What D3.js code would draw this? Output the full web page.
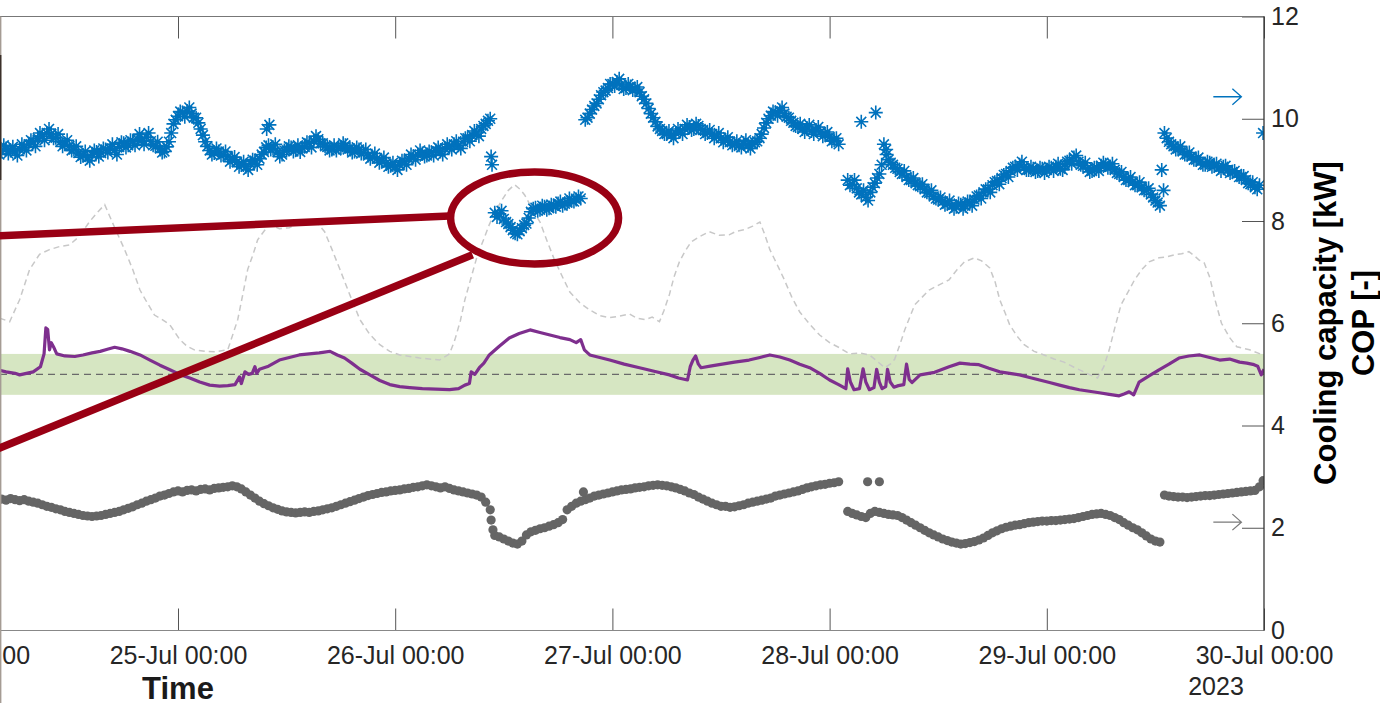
<!DOCTYPE html>
<html>
<head>
<meta charset="utf-8">
<script src="https://cdn.jsdelivr.net/npm/d3@7/dist/d3.min.js"></script>
<style>
  body { margin: 0; background: #fff; }
  svg { display: block; font-family: "Liberation Sans", Arial, Helvetica, sans-serif; }
</style>
</head>
<body>
<svg id="chart" width="1380" height="703"></svg>
<script>
// ---- time base: hours counted from 24-Jul-2023 00:00 ----
const T0 = Date.UTC(2023, 6, 24, 0, 0);
const STEP = 0.5; // sampling step of the logged series, hours

// x-axis tick dates and y-axis ticks
const dayTicks = ["2023-07-24", "2023-07-25", "2023-07-26", "2023-07-27", "2023-07-28", "2023-07-29", "2023-07-30"];
const valueTicks = [0, 2, 4, 6, 8, 10, 12];

// Cooling capacity [kW], logged in blocks (start hour, half-hourly values)
const capStartA = 4.0;
const capA = [9.40,9.36,9.42,9.38,9.35,9.41,9.44,9.50,9.55,9.62,9.66,9.72,9.70,9.63,9.55,9.50,9.47,9.40,9.33,9.28,
  9.24,9.30,9.35,9.33,9.40,9.42,9.38,9.45,9.52,9.48,9.55,9.60,9.58,9.64,9.56,9.47,9.42,9.36,9.55,9.90,
  10.05,10.12,10.15,10.10,10.02,9.80,9.55,9.38,9.33,9.36,9.30,9.26,9.20,9.15,9.10,9.06,9.12,9.18,9.22,9.35,
  9.48,9.42,9.35,9.30,9.38,9.44,9.40,9.35,9.45,9.52,9.56,9.60,9.52,9.45,9.40,9.38,9.44,9.48,9.42,9.36,
  9.40,9.34,9.28,9.25,9.22,9.18,9.12,9.08,9.06,9.10,9.16,9.22,9.26,9.30,9.32,9.28,9.34,9.38,9.36,9.42,
  9.45,9.50,9.48,9.55,9.62,9.68,9.72,9.80,9.90,10.00];
const capStartB = 59.0;
const capB = [8.16,8.14,8.04,7.94,7.82,7.74,7.86,7.95,8.18,8.26,8.22,8.28,8.25,8.30,8.34,8.30,8.36,8.40,8.42,8.44];
const capStartC = 69.0;
const capC = [9.98,10.10,10.25,10.38,10.52,10.60,10.68,10.72,10.66,10.60,10.63,10.58,10.52,10.38,10.20,10.02,9.85,9.76,9.70,9.68,
  9.72,9.76,9.80,9.84,9.80,9.86,9.78,9.72,9.70,9.66,9.62,9.58,9.55,9.50,9.48,9.52,9.47,9.50,9.56,9.70,
  9.92,10.06,10.12,10.16,10.10,10.02,9.92,9.84,9.80,9.82,9.76,9.78,9.74,9.70,9.64,9.58,9.50];
const capStartD = 98.0;
const capD = [8.80,8.72,8.64,8.52,8.46,8.56,8.74,8.92,9.50,9.20,9.10,9.02,8.92,8.86,8.80,8.74,8.68,8.62,8.55,8.48,
  8.42,8.38,8.34,8.30,8.28,8.32,8.30,8.36,8.42,8.50,8.56,8.62,8.70,8.78,8.84,8.92,8.98,9.06,9.10,9.04,
  9.00,9.02,8.98,9.02,9.00,9.04,9.06,9.02,9.10,9.18,9.24,9.16,9.08,9.02,8.98,9.04,9.08,9.10,9.06,9.00,
  8.92,8.86,8.80,8.76,8.70,8.66,8.60,8.52,8.40,8.30];
const capStartE = 133.0;
const capE = [9.72,9.55,9.46,9.42,9.36,9.30,9.26,9.20,9.16,9.10,9.14,9.08,9.04,9.06,9.00,8.96,8.92,8.86,8.80,8.72,8.66,8.70];

// interleaved samples logged a quarter hour later in each block
const capA2 = [9.30,9.48,9.32,9.45,9.28,9.50,9.38,9.58,9.46,9.72,9.58,9.80,9.62,9.70,9.46,9.58,9.38,9.46,9.25,9.36,
  9.18,9.38,9.26,9.42,9.34,9.50,9.30,9.54,9.44,9.58,9.48,9.70,9.50,9.72,9.48,9.55,9.34,9.45,9.72,9.98,
  10.14,10.04,10.22,10.02,9.92,9.68,9.46,9.30,9.42,9.28,9.36,9.16,9.25,9.06,9.16,9.00,9.20,9.10,9.30,9.44,
  9.40,9.50,9.26,9.38,9.46,9.36,9.48,9.42,9.54,9.44,9.66,9.52,9.46,9.38,9.48,9.44,9.52,9.40,9.34,9.44,
  9.32,9.40,9.22,9.32,9.14,9.24,9.06,9.14,9.00,9.18,9.10,9.30,9.20,9.38,9.26,9.36,9.28,9.44,9.30,9.50,
  9.40,9.56,9.42,9.62,9.56,9.76,9.66,9.86,9.96];
const capB2 = [8.08,8.20,7.98,7.88,7.76,7.80,7.92,8.06,8.24,8.20,8.30,8.22,8.32,8.28,8.38,8.34,8.44,8.38,8.48];
const capC2 = [10.02,10.18,10.30,10.46,10.55,10.68,10.64,10.78,10.58,10.68,10.56,10.62,10.44,10.30,10.10,9.94,9.80,9.70,9.76,9.62,
  9.80,9.70,9.88,9.78,9.90,9.80,9.70,9.78,9.62,9.72,9.54,9.64,9.48,9.56,9.44,9.58,9.42,9.54,9.62,9.82,
  10.00,10.14,10.06,10.22,10.04,9.96,9.86,9.90,9.74,9.88,9.70,9.84,9.66,9.74,9.56,9.62];
const capD2 = [8.70,8.80,8.56,8.60,8.40,8.66,8.84,9.10,9.40,9.14,9.04,8.96,8.98,8.80,8.84,8.70,8.72,8.56,8.60,8.44,
  8.46,8.32,8.40,8.24,8.34,8.24,8.38,8.30,8.48,8.44,8.62,8.56,8.76,8.72,8.90,8.86,9.04,9.00,9.16,9.00,
  9.06,8.96,9.04,8.94,9.06,8.98,9.12,9.00,9.16,9.12,9.28,9.10,9.14,8.96,9.04,8.98,9.14,9.04,9.12,8.94,
  8.96,8.80,8.86,8.70,8.76,8.60,8.64,8.46,8.36];
const capE2 = [9.62,9.50,9.40,9.46,9.30,9.34,9.20,9.24,9.10,9.16,9.06,9.12,8.98,9.08,8.94,8.98,8.86,8.88,8.74,8.76,8.62];
const capExtraHours = [33.8, 34.1, 58.6, 58.7, 99.5, 101.1, 102.3, 132.7, 132.9, 143.9];
const capExtraValues = [9.80, 9.88, 9.26, 9.10, 9.94, 10.12, 9.30, 9.00, 8.60, 9.72];

// COP [-], same logging blocks
const copStartA = 4.0;
const copA = [2.55,2.56,2.54,2.57,2.55,2.53,2.55,2.52,2.50,2.48,2.45,2.42,2.40,2.37,2.35,2.32,2.30,2.28,2.26,2.24,
  2.23,2.22,2.23,2.24,2.26,2.28,2.30,2.32,2.35,2.38,2.41,2.45,2.48,2.52,2.55,2.58,2.62,2.64,2.67,2.70,
  2.72,2.70,2.73,2.74,2.72,2.75,2.76,2.74,2.77,2.78,2.79,2.80,2.82,2.80,2.76,2.70,2.64,2.58,2.52,2.47,
  2.43,2.39,2.36,2.33,2.31,2.30,2.29,2.30,2.31,2.30,2.32,2.33,2.35,2.37,2.39,2.42,2.45,2.48,2.51,2.54,
  2.57,2.60,2.63,2.65,2.67,2.69,2.70,2.72,2.73,2.74,2.76,2.77,2.79,2.80,2.82,2.84,2.82,2.80,2.78,2.80,
  2.77,2.74,2.72,2.70,2.68,2.66,2.64,2.60,2.50,2.35];
const copStartB = 59.0;
const copB = [1.85,1.82,1.78,1.74,1.70,1.68,1.74,1.86,1.92,1.95,1.98,2.00,2.03,2.06,2.10,2.16];
const copStartC = 67.0;
const copC = [2.35,2.42,2.48,2.52,2.55,2.58,2.62,2.64,2.66,2.68,2.70,2.72,2.74,2.75,2.76,2.78,2.79,2.80,2.82,2.83,
  2.84,2.83,2.82,2.80,2.78,2.75,2.72,2.68,2.65,2.60,2.56,2.52,2.48,2.45,2.42,2.42,2.40,2.41,2.43,2.45,
  2.48,2.50,2.52,2.54,2.56,2.58,2.62,2.64,2.66,2.68,2.70,2.72,2.75,2.78,2.80,2.82,2.84,2.85,2.87,2.88,2.90];
const copStartD = 98.0;
const copD = [2.32,2.28,2.25,2.22,2.20,2.28,2.32,2.30,2.28,2.26,2.25,2.24,2.20,2.15,2.10,2.05,2.00,1.95,1.90,1.86,
  1.82,1.78,1.75,1.72,1.70,1.68,1.69,1.71,1.73,1.76,1.80,1.85,1.90,1.94,1.98,2.01,2.03,2.05,2.06,2.08,
  2.10,2.11,2.12,2.13,2.13,2.14,2.14,2.15,2.16,2.17,2.18,2.20,2.22,2.24,2.26,2.27,2.28,2.26,2.24,2.20,
  2.16,2.10,2.05,2.00,1.96,1.90,1.84,1.78,1.74,1.72];
const copStartE = 133.0;
const copE = [2.64,2.62,2.61,2.60,2.60,2.59,2.60,2.61,2.62,2.63,2.63,2.64,2.65,2.66,2.67,2.68,2.69,2.70,2.71,2.72,2.73,2.80];
const copExtraHours = [58.6, 58.8, 68.8, 100.2, 101.5, 143.9];
const copExtraValues = [2.15, 1.96, 2.70, 2.90, 2.90, 2.92];

// supply-side trace (solid purple line)
const purpleHours = [4.0,5.0,6.0,6.5,7.0,8.0,8.8,9.2,9.4,9.6,9.8,10.0,10.3,10.6,11.5,12.6,13.5,14.5,15.4,16.2,
  17.0,17.8,18.7,19.8,20.9,22.0,23.1,24.2,25.3,26.4,27.5,28.6,29.5,30.3,30.8,31.0,31.4,31.8,32.2,32.5,
  32.7,33.0,34.0,35.2,36.3,37.4,38.5,39.6,40.8,41.6,42.4,43.2,44.1,45.2,46.3,47.4,48.5,49.6,51.0,52.5,
  54.0,55.0,55.7,56.2,56.4,56.8,57.3,57.8,58.4,59.5,60.6,61.7,62.9,64.0,65.1,66.2,67.3,68.0,68.5,68.7,
  68.9,69.5,70.6,71.7,73.3,75.0,76.6,78.3,79.3,80.3,80.6,80.9,81.2,81.5,81.8,82.8,83.8,85.5,87.1,88.3,
  89.4,90.5,91.6,92.7,93.8,94.9,96.0,97.0,97.6,97.8,98.0,98.3,98.7,99.3,99.7,100.0,100.4,100.9,101.2,101.5,
  101.8,102.2,102.4,102.7,103.1,103.6,104.2,104.5,104.8,105.1,106.0,107.6,109.2,110.4,111.5,112.5,113.6,114.8,115.9,117.0,
  118.1,119.2,120.3,121.4,122.5,123.6,124.7,125.8,126.9,128.0,128.6,129.1,129.6,130.2,131.3,132.4,133.5,134.6,135.7,136.9,
  138.0,139.1,140.2,141.3,142.1,142.9,143.3,143.7,144.0];
const purpleValues = [5.09,5.05,5.02,4.99,5.01,5.05,5.15,5.40,5.91,5.88,5.48,5.62,5.52,5.40,5.36,5.35,5.38,5.42,5.45,5.49,
  5.53,5.50,5.45,5.38,5.28,5.18,5.09,5.00,4.93,4.85,4.79,4.77,4.78,4.80,4.95,4.82,5.05,5.00,5.02,5.15,
  5.02,5.10,5.16,5.28,5.33,5.38,5.40,5.42,5.45,5.38,5.32,5.22,5.10,4.99,4.88,4.80,4.76,4.74,4.72,4.71,
  4.70,4.72,4.79,4.82,5.05,5.00,5.13,5.22,5.38,5.55,5.71,5.80,5.87,5.82,5.77,5.72,5.68,5.62,5.68,5.58,
  5.48,5.38,5.33,5.28,5.20,5.13,5.06,4.99,4.93,4.89,5.15,5.28,5.36,5.20,5.13,5.16,5.19,5.24,5.28,5.33,
  5.38,5.34,5.28,5.20,5.13,5.02,4.89,4.80,4.74,4.72,5.11,4.85,4.70,4.72,5.11,4.85,4.70,4.74,5.10,4.85,
  4.72,4.76,5.10,4.85,4.75,4.78,4.80,5.20,4.90,4.84,4.99,5.04,5.15,5.22,5.20,5.19,5.12,5.05,5.02,4.99,
  4.94,4.89,4.84,4.79,4.74,4.70,4.67,4.64,4.61,4.58,4.62,4.66,4.60,4.85,4.97,5.09,5.20,5.32,5.36,5.38,
  5.33,5.28,5.30,5.24,5.22,5.19,5.16,4.99,5.10];

// outdoor trace (light dashed line)
const dashHours = [4.3,5.4,6.5,7.6,8.7,9.8,10.9,12.0,13.1,14.2,15.0,15.9,17.0,18.1,19.0,19.8,20.6,21.4,22.2,23.1,
  24.2,25.0,25.8,27.0,28.1,29.5,30.6,31.2,31.7,32.3,32.8,33.5,34.1,35.2,36.3,37.4,38.5,39.4,40.2,41.0,
  41.9,43.0,44.1,45.2,46.3,47.4,48.5,50.7,52.9,54.0,54.6,55.2,55.7,56.4,57.1,57.8,58.4,59.1,59.8,60.5,
  61.2,61.8,62.3,63.1,64.0,64.8,65.6,66.5,67.3,68.4,69.5,70.6,71.7,72.8,73.9,74.7,75.6,76.4,77.2,77.7,
  78.3,78.8,79.4,80.0,80.7,81.7,82.7,83.8,84.9,85.7,86.6,87.5,88.3,88.8,89.4,90.2,91.0,91.8,92.7,93.8,
  94.9,96.0,97.1,98.2,99.3,100.4,101.3,102.1,102.7,103.2,103.8,104.3,105.4,107.0,108.1,109.2,110.1,110.9,112.0,112.8,
  113.7,114.3,114.8,115.4,115.9,116.7,117.5,118.6,119.7,120.8,121.9,123.0,124.1,124.9,125.6,126.3,126.9,127.5,128.2,129.0,
  129.7,130.5,131.3,132.4,133.3,134.1,134.9,135.7,136.3,136.8,137.4,138.0,138.6,139.3,140.2,141.0,142.4,143.9];
const dashValues = [6.10,6.03,6.46,7.05,7.35,7.44,7.50,7.53,7.70,7.98,8.15,8.32,7.87,7.44,7.05,6.65,6.40,6.16,6.08,5.97,
  5.68,5.55,5.48,5.45,5.44,5.48,6.07,6.60,7.05,7.35,7.63,7.80,7.93,7.85,7.87,7.95,8.02,7.96,7.79,7.45,
  7.05,6.55,6.07,5.78,5.58,5.45,5.38,5.32,5.28,5.40,5.68,6.05,6.46,6.90,7.34,7.65,7.93,8.20,8.41,8.60,
  8.71,8.62,8.51,8.25,7.98,7.60,7.24,6.90,6.61,6.40,6.26,6.15,6.11,6.14,6.18,6.10,6.07,6.12,6.03,6.25,
  6.56,6.90,7.20,7.40,7.59,7.70,7.79,7.72,7.73,7.80,7.83,7.90,7.98,7.75,7.44,7.15,6.85,6.52,6.22,5.98,
  5.77,5.62,5.52,5.40,5.42,5.38,5.25,5.13,5.20,5.30,5.60,5.87,6.36,6.65,6.75,6.85,7.05,7.20,7.28,7.22,
  7.08,6.80,6.46,6.20,5.97,5.75,5.58,5.45,5.38,5.30,5.24,5.14,5.05,4.98,4.93,5.15,5.48,5.90,6.36,6.62,
  6.85,7.05,7.20,7.28,7.30,7.34,7.36,7.40,7.32,7.24,7.18,6.90,6.45,6.00,5.72,5.54,5.48,5.38];

// target COP band and its set point
const bandLow = 4.6, bandHigh = 5.4, bandMid = 5.0;

// ---- helpers ----
const toDate = h => new Date(T0 + h * 3600e3);
const block = (start, vals) => vals.map((v, i) => ({ t: start + i * STEP, v }));
const pairs = (hs, vs) => hs.map((h, i) => ({ t: h, v: vs[i] }));
const Q = STEP / 2;

const capPoints = [].concat(
  block(capStartA, capA), block(capStartB, capB), block(capStartC, capC),
  block(capStartD, capD), block(capStartE, capE),
  block(capStartA + Q, capA2), block(capStartB + Q, capB2), block(capStartC + Q, capC2),
  block(capStartD + Q, capD2), block(capStartE + Q, capE2),
  pairs(capExtraHours, capExtraValues));
const copPoints = [].concat(
  block(copStartA, copA), block(copStartB, copB), block(copStartC, copC),
  block(copStartD, copD), block(copStartE, copE), pairs(copExtraHours, copExtraValues));
const purplePoints = pairs(purpleHours, purpleValues);
const dashPoints = pairs(dashHours, dashValues);

// ---- scales ----
const svg = d3.select("#chart");
const plotRight = 1264, plotTop = 16.5, plotBottom = 630;
const x = d3.scaleUtc()
  .domain([new Date(Date.UTC(2023, 6, 24)), new Date(Date.UTC(2023, 6, 30))])
  .range([-39.2, plotRight]);
const y = d3.scaleLinear().domain([0, 12]).range([plotBottom, plotTop]);
const X = d => x(toDate(d.t));
const Y = d => y(d.v);

const defs = svg.append("defs");
defs.append("clipPath").attr("id", "plotClip")
  .append("rect").attr("x", 0).attr("y", plotTop).attr("width", plotRight).attr("height", plotBottom - plotTop);

const plot = svg.append("g").attr("clip-path", "url(#plotClip)");

// target band
plot.append("rect")
  .attr("x", 0).attr("width", plotRight)
  .attr("y", y(bandHigh)).attr("height", y(bandLow) - y(bandHigh))
  .attr("fill", "#d6e6c2");
plot.append("line")
  .attr("x1", 0).attr("x2", plotRight)
  .attr("y1", y(bandMid)).attr("y2", y(bandMid))
  .attr("stroke", "#6a6a6a").attr("stroke-width", 1.3).attr("stroke-dasharray", "7,5");

// outdoor dashed trace
const line = d3.line().x(X).y(Y);
plot.append("path").datum(dashPoints)
  .attr("d", line).attr("fill", "none")
  .attr("stroke", "#c8c8c8").attr("stroke-width", 1.5).attr("stroke-dasharray", "6,4");

// purple trace
plot.append("path").datum(purplePoints)
  .attr("d", line).attr("fill", "none")
  .attr("stroke", "#7e2f8e").attr("stroke-width", 3.2)
  .attr("stroke-linejoin", "round");

// COP dots
plot.append("g").selectAll("circle").data(copPoints).join("circle")
  .attr("cx", X).attr("cy", Y).attr("r", 4.6)
  .attr("fill", "#656565");

// cooling capacity asterisks
const s = 7, a = s * 0.7071;
const starPath = `M${-s},0H${s}M0,${-s}V${s}M${-a},${-a}L${a},${a}M${-a},${a}L${a},${-a}`;
plot.append("g").selectAll("path").data(capPoints).join("path")
  .attr("transform", d => `translate(${X(d)},${Y(d)})`)
  .attr("d", starPath)
  .attr("fill", "none").attr("stroke", "#0072bd").attr("stroke-width", 1.6);

// ---- axes ----
const tickDates = dayTicks.map(s => new Date(s + "T00:00:00Z"));
const axisColor = "#262626";

const axBottom = svg.append("g").attr("transform", `translate(0,${plotBottom + 0.5})`)
  .call(d3.axisBottom(x).tickValues(tickDates)
    .tickFormat(d3.utcFormat("%d-%b %H:%M"))
    .tickSizeInner(-22).tickSizeOuter(0).tickPadding(16));
const axTop = svg.append("g").attr("transform", `translate(0,${plotTop})`)
  .call(d3.axisTop(x).tickValues(tickDates).tickFormat("")
    .tickSizeInner(-22).tickSizeOuter(0));
const axRight = svg.append("g").attr("transform", `translate(${plotRight},0)`)
  .call(d3.axisRight(y).tickValues(valueTicks)
    .tickSizeInner(-22).tickSizeOuter(0).tickPadding(7));

[axBottom, axTop, axRight].forEach(g => {
  g.select(".domain").remove();
  g.selectAll(".tick line").attr("stroke", "#555").attr("stroke-width", 1);
  g.selectAll(".tick text").attr("fill", axisColor)
    .style("font-size", "25px").style("font-family", '"Liberation Sans", Arial, sans-serif');
});

// frame lines
svg.append("line").attr("x1", 0).attr("x2", plotRight)
  .attr("y1", plotTop).attr("y2", plotTop).attr("stroke", "#777").attr("stroke-width", 1.2);
svg.append("line").attr("x1", 0).attr("x2", plotRight)
  .attr("y1", plotBottom + 0.5).attr("y2", plotBottom + 0.5).attr("stroke", "#888").attr("stroke-width", 1.2);
svg.append("line").attr("x1", plotRight).attr("x2", plotRight)
  .attr("y1", plotTop).attr("y2", plotBottom + 0.5).attr("stroke", "#333").attr("stroke-width", 1.3);
// left edge of the figure frame
svg.append("line").attr("x1", 0.7).attr("x2", 0.7)
  .attr("y1", plotTop).attr("y2", 703).attr("stroke", "#a59c94").attr("stroke-width", 1.4);
svg.append("line").attr("x1", 0.7).attr("x2", 0.7)
  .attr("y1", 55).attr("y2", 180).attr("stroke", "#3b302a").attr("stroke-width", 1.4);

// axis titles
svg.append("text").attr("x", 178).attr("y", 699)
  .attr("text-anchor", "middle").attr("font-weight", "bold").attr("font-size", 31)
  .attr("fill", "#1a1a1a").text("Time");
svg.append("text").attr("x", 1216).attr("y", 695)
  .attr("text-anchor", "middle").attr("font-size", 25)
  .attr("fill", axisColor).text("2023");
const yTitle = svg.append("g").attr("transform", "translate(1336,323) rotate(-90)");
yTitle.append("text").attr("x", 0).attr("y", 0)
  .attr("text-anchor", "middle").attr("font-weight", "bold").attr("font-size", 31)
  .attr("fill", "#000").text("Cooling capacity [kW]");
yTitle.append("text").attr("x", 0).attr("y", 38)
  .attr("text-anchor", "middle").attr("font-weight", "bold").attr("font-size", 31)
  .attr("fill", "#000").text("COP [-]");

// axis pointer arrows
function arrow(value, color) {
  const x1 = x(toDate(138.4)), x2 = x(toDate(141.5)), yy = y(value);
  svg.append("path")
    .attr("d", `M${x1},${yy}H${x2}M${x2 - 9},${yy - 8}L${x2},${yy}L${x2 - 9},${yy + 8}`)
    .attr("fill", "none").attr("stroke", color).attr("stroke-width", 1.3);
}
arrow(10.43, "#0072bd");
arrow(2.11, "#7a7a7a");

// highlight of the low-capacity block
const red = "#990014";
const ellC = { t: 63.4, v: 8.06 }, ellRt = 9.28, ellRv = 0.9;
svg.append("ellipse")
  .attr("cx", X(ellC)).attr("cy", Y(ellC))
  .attr("rx", x(toDate(ellC.t + ellRt)) - X(ellC))
  .attr("ry", y(ellC.v - ellRv) - Y(ellC))
  .attr("fill", "none").attr("stroke", red).attr("stroke-width", 7.5);
const leaders = [
  [{ t: 0, v: 7.68 }, { t: 54.0, v: 8.10 }],
  [{ t: 0, v: 3.25 }, { t: 56.55, v: 7.34 }]
];
svg.selectAll(".leader").data(leaders).join("path").attr("class", "leader")
  .attr("d", d3.line().x(X).y(Y))
  .attr("fill", "none").attr("stroke", red).attr("stroke-width", 7.5);
</script>
</body>
</html>
